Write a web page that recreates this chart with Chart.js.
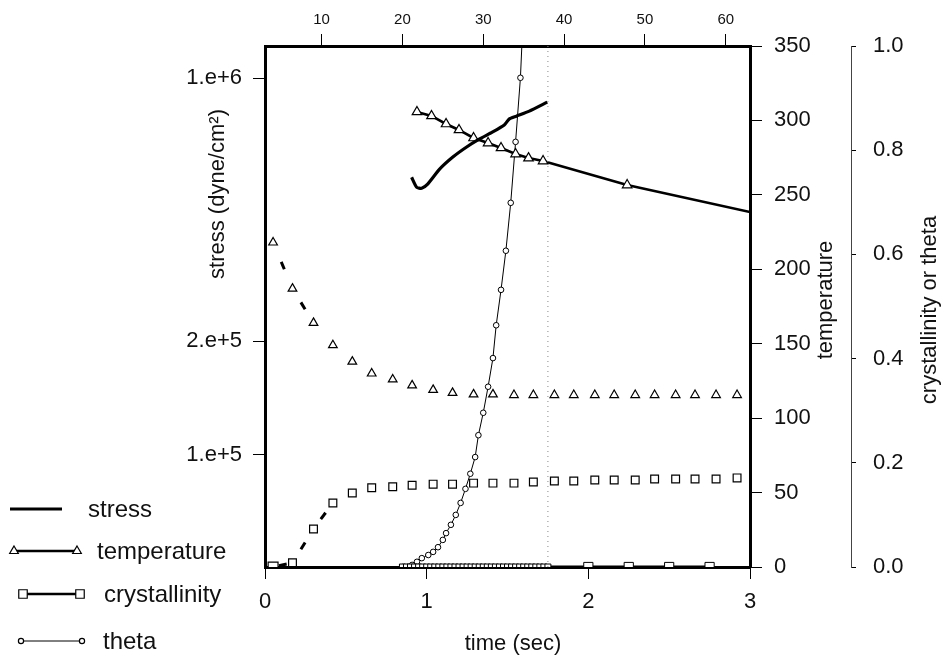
<!DOCTYPE html>
<html>
<head>
<meta charset="utf-8">
<script src="https://cdn.jsdelivr.net/npm/chart.js@4.4.1/dist/chart.umd.min.js"></script>
<style>
  html, body { margin: 0; padding: 0; background: #fff; }
  #wrap { width: 944px; height: 658px; }
</style>
</head>
<body>
<div id="wrap"><canvas id="fig" width="944" height="658"></canvas></div>
<script>
// ---- data ----
const timeTicks = [0, 1, 2, 3];
const topTicks = [10, 20, 30, 40, 50, 60];
const stressTicks = [1e5, 2e5, 1e6];
const stressTickLabels = ['1.e+5', '2.e+5', '1.e+6'];
const tempTicks = [0, 50, 100, 150, 200, 250, 300, 350];
const crystTicks = [0, 0.2, 0.4, 0.6, 0.8, 1.0];

// first run (markers only)
const run1Time = [0.05, 0.17, 0.30, 0.42, 0.54, 0.66, 0.79, 0.91, 1.04, 1.16, 1.29, 1.41,
                  1.54, 1.66, 1.79, 1.91, 2.04, 2.16, 2.29, 2.41, 2.54, 2.66, 2.79, 2.92];
const temp1 = [218, 187, 164, 149, 138, 130, 126, 122, 119, 117, 116, 116,
               115.5, 115.5, 115.5, 115.5, 115.5, 115.5, 115.5, 115.5, 115.5, 115.5, 115.5, 115.5];
const cryst1 = [0, 0.008, 0.073, 0.123, 0.142, 0.152, 0.154, 0.157, 0.159, 0.159, 0.161, 0.161,
                0.161, 0.163, 0.165, 0.165, 0.167, 0.167, 0.167, 0.169, 0.169, 0.169, 0.169, 0.171];
const theta1Time = [0.85, 0.88, 0.91, 0.94, 0.97, 1.01, 1.04, 1.07, 1.10, 1.12, 1.15, 1.18, 1.21,
                    1.24, 1.27, 1.30, 1.32, 1.35, 1.38, 1.41, 1.43, 1.46, 1.49, 1.52, 1.55, 1.58, 1.60];
const theta1 = [0, 0, 0.004, 0.010, 0.017, 0.023, 0.029, 0.038, 0.052, 0.065, 0.081, 0.100, 0.123,
                0.150, 0.179, 0.211, 0.253, 0.296, 0.346, 0.401, 0.464, 0.532, 0.607, 0.699, 0.816, 0.939, 1.08];

// second run
const stress2Time = [0.907, 0.938, 0.969, 1.006, 1.08, 1.16, 1.245, 1.325, 1.406, 1.48, 1.51, 1.555, 1.635, 1.746];
const stress2 = [545000, 513000, 510000, 523000, 573000, 616000, 655000, 688000, 718000, 750000, 778000, 792000, 817000, 863000];
const temp2Time = [0.94, 1.03, 1.12, 1.20, 1.29, 1.38, 1.46, 1.55, 1.63, 1.72, 2.24, 3.00];
const temp2 = [305.7, 303, 297.6, 293.6, 288.2, 284.8, 281.5, 277.4, 274.7, 272.7, 256.6, 238.5];
const cryst2Time = [0.85, 0.875, 0.9, 0.925, 0.95, 0.975, 1.0, 1.025, 1.05, 1.075, 1.1, 1.125, 1.15, 1.175,
                    1.2, 1.225, 1.25, 1.275, 1.3, 1.325, 1.35, 1.375, 1.4, 1.425, 1.45, 1.475, 1.5, 1.525,
                    1.55, 1.575, 1.6, 1.625, 1.65, 1.675, 1.7, 1.725, 1.75, 2.0, 2.25, 2.5, 2.75];
const cryst2 = [0, 0, 0, 0, 0, 0, 0, 0, 0, 0, 0, 0, 0, 0,
                0, 0, 0, 0, 0, 0, 0, 0, 0, 0, 0, 0, 0, 0,
                0, 0, 0, 0, 0, 0, 0, 0, 0, 0, 0, 0, 0];

const markTime = 1.75;          // dotted vertical line
const legendNames = ['stress', 'temperature', 'crystallinity', 'theta'];

// ---- helpers ----
const FONT = "'Liberation Sans', Arial, sans-serif";
Chart.defaults.font.family = FONT;
Chart.defaults.color = '#111';

const pts = (xs, ys) => xs.map((x, i) => ({ x: x, y: ys[i] }));
const fixTicks = vals => s => { s.ticks = vals.map(v => ({ value: v })); };

// show only a short dash in the middle of the first few segments (scan look)
function midDash(maxSeg) {
  return {
    borderDash: c => {
      const L = Math.hypot(c.p1.x - c.p0.x, c.p1.y - c.p0.y);
      return [0, Math.max(L / 2 - 4, 0), 8, L + 10];
    },
    borderColor: c => (c.p0DataIndex < maxSeg ? '#000' : 'rgba(0,0,0,0)')
  };
}

const axisGrid = len => ({ drawOnChartArea: false, tickLength: len, tickColor: '#000', tickWidth: 1 });

// ---- custom legend + axis titles ----
function marker(ctx, style, x, y, r) {
  ctx.beginPath();
  if (style === 'triangle') {
    ctx.moveTo(x, y - r);
    ctx.lineTo(x + r * 0.866, y + r * 0.5);
    ctx.lineTo(x - r * 0.866, y + r * 0.5);
    ctx.closePath();
  } else if (style === 'rect') {
    const h = r * 0.707;
    ctx.rect(x - h, y - h, 2 * h, 2 * h);
  } else {
    ctx.arc(x, y, r, 0, Math.PI * 2);
  }
  ctx.fillStyle = '#fff';
  ctx.fill();
  ctx.lineWidth = 1.2;
  ctx.stroke();
}

const sideLegend = {
  id: 'sideLegend',
  afterDraw(chart) {
    const ctx = chart.ctx;
    ctx.save();
    ctx.strokeStyle = '#000';
    const rows = [
      { x0: 10, x1: 62, y: 509, w: 3.2, mk: null, tx: 88 },
      { x0: 14, x1: 77, y: 551, w: 2.6, mk: 'triangle', r: 5, tx: 97 },
      { x0: 23, x1: 80, y: 594, w: 2.6, mk: 'rect', r: 6, tx: 104 },
      { x0: 21, x1: 82, y: 641, w: 1, mk: 'circle', r: 2.6, tx: 103 }
    ];
    rows.forEach((r, i) => {
      ctx.lineWidth = r.w;
      ctx.beginPath();
      ctx.moveTo(r.x0, r.y);
      ctx.lineTo(r.x1, r.y);
      ctx.stroke();
      if (r.mk) {
        marker(ctx, r.mk, r.x0, r.y, r.r);
        marker(ctx, r.mk, r.x1, r.y, r.r);
      }
      ctx.fillStyle = '#111';
      ctx.font = '24px ' + FONT;
      ctx.textBaseline = 'middle';
      ctx.textAlign = 'left';
      ctx.fillText(legendNames[i], r.tx, r.y + 1);
    });

    // axis titles
    ctx.font = '22px ' + FONT;
    ctx.fillStyle = '#111';
    ctx.textAlign = 'center';
    ctx.textBaseline = 'middle';
    ctx.fillText('time (sec)', 513, 644);
    const vText = (t, x, y) => {
      ctx.save();
      ctx.translate(x, y);
      ctx.rotate(-Math.PI / 2);
      ctx.fillText(t, 0, 0);
      ctx.restore();
    };
    vText('stress (dyne/cm²)', 218, 194);
    vText('temperature', 826, 300);
    vText('crystallinity or theta', 930, 310);
    ctx.restore();
  }
};

// ---- chart ----
const config = {
  type: 'line',
  data: {
    datasets: [
      {
        label: 'mark',
        data: [{ x: markTime, y: 0 }, { x: markTime, y: 350 }],
        yAxisID: 'yT',
        borderColor: '#888',
        borderWidth: 1,
        borderDash: [1, 4],
        pointRadius: 0
      },
      {
        label: 'stress',
        data: pts(stress2Time, stress2),
        yAxisID: 'yS',
        borderColor: '#000',
        borderWidth: 3.2,
        pointRadius: 0,
        tension: 0.2
      },
      {
        label: 'temperature',
        data: pts(temp2Time, temp2),
        yAxisID: 'yT',
        borderColor: '#000',
        borderWidth: 2.6,
        pointStyle: 'triangle',
        pointRadius: c => (c.raw && c.raw.x >= 3 ? 0 : 5.5),
        pointBackgroundColor: '#fff',
        pointBorderColor: '#000',
        pointBorderWidth: 1.2
      },
      {
        label: 'temperature (run 1)',
        data: pts(run1Time, temp1),
        yAxisID: 'yT',
        borderWidth: 3,
        segment: midDash(2),
        pointStyle: 'triangle',
        pointRadius: 5,
        pointBackgroundColor: '#fff',
        pointBorderColor: '#000',
        pointBorderWidth: 1.2
      },
      {
        label: 'crystallinity (run 1)',
        data: pts(run1Time, cryst1),
        yAxisID: 'yC',
        borderWidth: 3,
        segment: midDash(3),
        pointStyle: 'rect',
        pointRadius: c => (c.dataIndex === 0 ? 7 : 5.5),
        pointBackgroundColor: '#fff',
        pointBorderColor: '#000',
        pointBorderWidth: 1.2
      },
      {
        label: 'crystallinity',
        data: pts(cryst2Time, cryst2),
        yAxisID: 'yC',
        borderColor: '#000',
        borderWidth: 3,
        pointStyle: 'rect',
        pointRadius: c => (c.raw && c.raw.x > 1.8 ? 6.5 : 4.2),
        pointBackgroundColor: '#fff',
        pointBorderColor: '#000',
        pointBorderWidth: 1
      },
      {
        label: 'theta',
        data: pts(theta1Time, theta1),
        yAxisID: 'yC',
        borderColor: '#000',
        borderWidth: 1,
        pointStyle: 'circle',
        pointRadius: 2.8,
        pointBackgroundColor: '#fff',
        pointBorderColor: '#000',
        pointBorderWidth: 1
      }
    ]
  },
  options: {
    responsive: false,
    animation: false,
    layout: { padding: 0 },
    plugins: {
      legend: { display: false },
      title: { display: false },
      tooltip: { enabled: false }
    },
    scales: {
      x: {
        type: 'linear', position: 'bottom', min: 0, max: 3,
        afterBuildTicks: fixTicks(timeTicks),
        ticks: { font: { size: 22 }, padding: 10, maxRotation: 0, autoSkip: false },
        grid: axisGrid(12),
        border: { color: '#000', width: 3 },
        afterFit: s => { s.height = 91; }
      },
      xTop: {
        type: 'linear', position: 'top', min: 3, max: 63,
        afterBuildTicks: fixTicks(topTicks),
        ticks: { font: { size: 15 }, padding: 5, maxRotation: 0, autoSkip: false },
        grid: axisGrid(12),
        border: { color: '#000', width: 3 },
        afterFit: s => { s.height = 46; }
      },
      yS: {
        type: 'logarithmic', position: 'left', min: 50400, max: 1216000,
        afterBuildTicks: fixTicks(stressTicks),
        ticks: { font: { size: 22 }, padding: 11, autoSkip: false,
                 callback: (v, i) => stressTickLabels[i] },
        grid: axisGrid(12),
        border: { color: '#000', width: 3 },
        afterFit: s => { s.width = 265; }
      },
      yT: {
        type: 'linear', position: 'right', weight: 0, min: 0, max: 350,
        afterBuildTicks: fixTicks(tempTicks),
        ticks: { font: { size: 22 }, padding: 12, autoSkip: false },
        grid: axisGrid(12),
        border: { color: '#000', width: 3 },
        afterFit: s => { s.width = 101; }
      },
      yC: {
        type: 'linear', position: 'right', weight: 1, min: 0, max: 1,
        afterBuildTicks: fixTicks(crystTicks),
        ticks: { font: { size: 22 }, padding: 17, autoSkip: false,
                 callback: v => v.toFixed(1) },
        grid: axisGrid(5),
        border: { color: '#444', width: 1, dash: [4, 2] },
        afterFit: s => { s.width = 93; }
      }
    }
  },
  plugins: [sideLegend]
};

new Chart(document.getElementById('fig'), config);
</script>
</body>
</html>
